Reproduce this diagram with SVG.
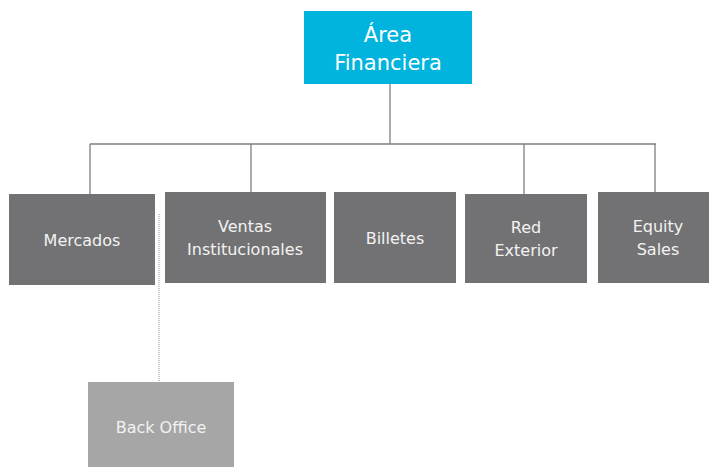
<svg xmlns="http://www.w3.org/2000/svg" width="709" height="467" viewBox="0 0 709 467">
  <style>
    .box { fill: #727274; }
    .root { fill: #00B4DE; }
    .sub { fill: #A6A6A6; }
    .lbl { font-family: "DejaVu Sans", "Open Sans", sans-serif; font-size: 16px; fill: #F2F2F2; text-anchor: middle; dominant-baseline: central; }
    .big { font-size: 21px; fill: #FFFFFF; }
    .link { stroke: #7F7F7F; stroke-width: 1.3; fill: none; }
    .dot { stroke: #A8A8A8; stroke-width: 1.3; fill: none; stroke-dasharray: 1 1; }
  </style>

  <g id="connectors">
    <path class="link" d="M390 84 V144 M90 144 H656 M90 144 V194 M251 144 V192 M524 144 V194 M655 144 V192"/>
    <path class="dot" d="M159 214 V382"/>
  </g>

  <g id="area-financiera">
    <rect class="root" x="304" y="11" width="168" height="73"/>
    <text class="lbl big" x="388" y="35">Área</text>
    <text class="lbl big" x="388" y="63">Financiera</text>
  </g>

  <g id="mercados">
    <rect class="box" x="9" y="194" width="146" height="91"/>
    <text class="lbl" x="82" y="240">Mercados</text>
  </g>

  <g id="ventas-institucionales">
    <rect class="box" x="165" y="192" width="161" height="91"/>
    <text class="lbl" x="245" y="226">Ventas</text>
    <text class="lbl" x="245" y="249">Institucionales</text>
  </g>

  <g id="billetes">
    <rect class="box" x="334" y="192" width="122" height="91"/>
    <text class="lbl" x="395" y="238">Billetes</text>
  </g>

  <g id="red-exterior">
    <rect class="box" x="465" y="194" width="122" height="89"/>
    <text class="lbl" x="526" y="227">Red</text>
    <text class="lbl" x="526" y="250">Exterior</text>
  </g>

  <g id="equity-sales">
    <rect class="box" x="598" y="192" width="111" height="91"/>
    <text class="lbl" x="658" y="226">Equity</text>
    <text class="lbl" x="658" y="249">Sales</text>
  </g>

  <g id="back-office">
    <rect class="sub" x="88" y="382" width="146" height="85"/>
    <text class="lbl" x="161" y="427">Back Office</text>
  </g>
</svg>
